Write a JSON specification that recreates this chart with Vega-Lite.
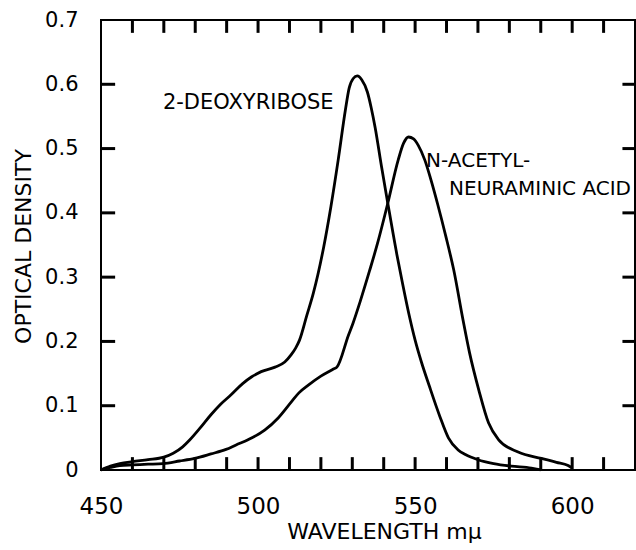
{
  "$schema": "https://vega.github.io/schema/vega-lite/v6.json",
  "width": 534,
  "height": 450,
  "autosize": {"type": "none"},
  "padding": {"left": 101, "top": 20, "right": 1, "bottom": 80},
  "background": "white",
  "config": {
    "view": {"stroke": "black", "strokeWidth": 2},
    "axis": {
      "domain": false,
      "grid": false,
      "labelColor": "black",
      "titleColor": "black",
      "labelFont": "DejaVu Sans",
      "titleFont": "DejaVu Sans",
      "titleFontWeight": "normal"
    }
  },
  "datasets": {
    "curves": [
      {"compound": "2-deoxyribose", "wavelength": 450, "od": 0},
      {"compound": "2-deoxyribose", "wavelength": 453, "od": 0.006},
      {"compound": "2-deoxyribose", "wavelength": 456, "od": 0.010},
      {"compound": "2-deoxyribose", "wavelength": 460, "od": 0.013},
      {"compound": "2-deoxyribose", "wavelength": 465, "od": 0.016},
      {"compound": "2-deoxyribose", "wavelength": 470, "od": 0.020},
      {"compound": "2-deoxyribose", "wavelength": 473, "od": 0.026},
      {"compound": "2-deoxyribose", "wavelength": 476, "od": 0.036},
      {"compound": "2-deoxyribose", "wavelength": 478.3, "od": 0.047},
      {"compound": "2-deoxyribose", "wavelength": 481.5, "od": 0.065},
      {"compound": "2-deoxyribose", "wavelength": 485, "od": 0.086},
      {"compound": "2-deoxyribose", "wavelength": 488, "od": 0.102},
      {"compound": "2-deoxyribose", "wavelength": 491.4, "od": 0.117},
      {"compound": "2-deoxyribose", "wavelength": 495, "od": 0.134},
      {"compound": "2-deoxyribose", "wavelength": 498, "od": 0.145},
      {"compound": "2-deoxyribose", "wavelength": 501, "od": 0.153},
      {"compound": "2-deoxyribose", "wavelength": 505.4, "od": 0.160},
      {"compound": "2-deoxyribose", "wavelength": 508.5, "od": 0.168},
      {"compound": "2-deoxyribose", "wavelength": 510.5, "od": 0.179},
      {"compound": "2-deoxyribose", "wavelength": 512, "od": 0.190},
      {"compound": "2-deoxyribose", "wavelength": 513.2, "od": 0.202},
      {"compound": "2-deoxyribose", "wavelength": 515.5, "od": 0.240},
      {"compound": "2-deoxyribose", "wavelength": 517.6, "od": 0.275},
      {"compound": "2-deoxyribose", "wavelength": 520.9, "od": 0.347},
      {"compound": "2-deoxyribose", "wavelength": 523.2, "od": 0.410},
      {"compound": "2-deoxyribose", "wavelength": 525.5, "od": 0.482},
      {"compound": "2-deoxyribose", "wavelength": 527.8, "od": 0.560},
      {"compound": "2-deoxyribose", "wavelength": 529, "od": 0.594},
      {"compound": "2-deoxyribose", "wavelength": 530.3, "od": 0.609},
      {"compound": "2-deoxyribose", "wavelength": 531.6, "od": 0.613},
      {"compound": "2-deoxyribose", "wavelength": 533, "od": 0.607},
      {"compound": "2-deoxyribose", "wavelength": 534.8, "od": 0.588},
      {"compound": "2-deoxyribose", "wavelength": 536, "od": 0.564},
      {"compound": "2-deoxyribose", "wavelength": 537.3, "od": 0.532},
      {"compound": "2-deoxyribose", "wavelength": 539.3, "od": 0.472},
      {"compound": "2-deoxyribose", "wavelength": 541.3, "od": 0.415},
      {"compound": "2-deoxyribose", "wavelength": 544.2, "od": 0.335},
      {"compound": "2-deoxyribose", "wavelength": 546, "od": 0.290},
      {"compound": "2-deoxyribose", "wavelength": 548, "od": 0.243},
      {"compound": "2-deoxyribose", "wavelength": 550, "od": 0.202},
      {"compound": "2-deoxyribose", "wavelength": 552, "od": 0.168},
      {"compound": "2-deoxyribose", "wavelength": 554.5, "od": 0.131},
      {"compound": "2-deoxyribose", "wavelength": 557.9, "od": 0.083},
      {"compound": "2-deoxyribose", "wavelength": 560.6, "od": 0.050},
      {"compound": "2-deoxyribose", "wavelength": 563.7, "od": 0.031},
      {"compound": "2-deoxyribose", "wavelength": 566, "od": 0.024},
      {"compound": "2-deoxyribose", "wavelength": 570, "od": 0.016},
      {"compound": "2-deoxyribose", "wavelength": 575, "od": 0.010},
      {"compound": "2-deoxyribose", "wavelength": 580.6, "od": 0.006},
      {"compound": "2-deoxyribose", "wavelength": 587, "od": 0.003},
      {"compound": "2-deoxyribose", "wavelength": 590, "od": 0},
      {"compound": "N-acetylneuraminic acid", "wavelength": 450, "od": 0},
      {"compound": "N-acetylneuraminic acid", "wavelength": 453, "od": 0.004},
      {"compound": "N-acetylneuraminic acid", "wavelength": 456, "od": 0.007},
      {"compound": "N-acetylneuraminic acid", "wavelength": 460, "od": 0.008},
      {"compound": "N-acetylneuraminic acid", "wavelength": 465, "od": 0.009},
      {"compound": "N-acetylneuraminic acid", "wavelength": 469.7, "od": 0.010},
      {"compound": "N-acetylneuraminic acid", "wavelength": 475, "od": 0.014},
      {"compound": "N-acetylneuraminic acid", "wavelength": 479.8, "od": 0.018},
      {"compound": "N-acetylneuraminic acid", "wavelength": 485, "od": 0.025},
      {"compound": "N-acetylneuraminic acid", "wavelength": 489.8, "od": 0.032},
      {"compound": "N-acetylneuraminic acid", "wavelength": 493, "od": 0.039},
      {"compound": "N-acetylneuraminic acid", "wavelength": 496.8, "od": 0.047},
      {"compound": "N-acetylneuraminic acid", "wavelength": 502.1, "od": 0.062},
      {"compound": "N-acetylneuraminic acid", "wavelength": 506.4, "od": 0.081},
      {"compound": "N-acetylneuraminic acid", "wavelength": 510.6, "od": 0.106},
      {"compound": "N-acetylneuraminic acid", "wavelength": 513, "od": 0.120},
      {"compound": "N-acetylneuraminic acid", "wavelength": 516, "od": 0.132},
      {"compound": "N-acetylneuraminic acid", "wavelength": 520, "od": 0.146},
      {"compound": "N-acetylneuraminic acid", "wavelength": 524, "od": 0.157},
      {"compound": "N-acetylneuraminic acid", "wavelength": 525.1, "od": 0.160},
      {"compound": "N-acetylneuraminic acid", "wavelength": 528.8, "od": 0.210},
      {"compound": "N-acetylneuraminic acid", "wavelength": 530.2, "od": 0.228},
      {"compound": "N-acetylneuraminic acid", "wavelength": 532.5, "od": 0.262},
      {"compound": "N-acetylneuraminic acid", "wavelength": 535.5, "od": 0.310},
      {"compound": "N-acetylneuraminic acid", "wavelength": 538, "od": 0.352},
      {"compound": "N-acetylneuraminic acid", "wavelength": 541.3, "od": 0.415},
      {"compound": "N-acetylneuraminic acid", "wavelength": 544.6, "od": 0.482},
      {"compound": "N-acetylneuraminic acid", "wavelength": 546.3, "od": 0.508},
      {"compound": "N-acetylneuraminic acid", "wavelength": 547.9, "od": 0.518},
      {"compound": "N-acetylneuraminic acid", "wavelength": 549.5, "od": 0.515},
      {"compound": "N-acetylneuraminic acid", "wavelength": 551, "od": 0.505},
      {"compound": "N-acetylneuraminic acid", "wavelength": 553.1, "od": 0.482},
      {"compound": "N-acetylneuraminic acid", "wavelength": 555, "od": 0.452},
      {"compound": "N-acetylneuraminic acid", "wavelength": 557.2, "od": 0.413},
      {"compound": "N-acetylneuraminic acid", "wavelength": 559.7, "od": 0.365},
      {"compound": "N-acetylneuraminic acid", "wavelength": 562.3, "od": 0.311},
      {"compound": "N-acetylneuraminic acid", "wavelength": 565.3, "od": 0.232},
      {"compound": "N-acetylneuraminic acid", "wavelength": 567.3, "od": 0.183},
      {"compound": "N-acetylneuraminic acid", "wavelength": 570.3, "od": 0.124},
      {"compound": "N-acetylneuraminic acid", "wavelength": 573.4, "od": 0.073},
      {"compound": "N-acetylneuraminic acid", "wavelength": 576.6, "od": 0.047},
      {"compound": "N-acetylneuraminic acid", "wavelength": 582.8, "od": 0.028},
      {"compound": "N-acetylneuraminic acid", "wavelength": 590.2, "od": 0.018},
      {"compound": "N-acetylneuraminic acid", "wavelength": 595, "od": 0.012},
      {"compound": "N-acetylneuraminic acid", "wavelength": 598.7, "od": 0.007},
      {"compound": "N-acetylneuraminic acid", "wavelength": 600, "od": 0.003}
    ],
    "labels": [
      {"text": "2-DEOXYRIBOSE", "wavelength": 469.7, "od": 0.571, "size": "large"},
      {"text": "N-ACETYL-", "wavelength": 553.5, "od": 0.481, "size": "small"},
      {"text": "NEURAMINIC  ACID", "wavelength": 560.8, "od": 0.437, "size": "small"}
    ],
    "xticks": [
      {"wavelength": 460, "kind": "minor"},
      {"wavelength": 470, "kind": "minor"},
      {"wavelength": 480, "kind": "minor"},
      {"wavelength": 490, "kind": "minor"},
      {"wavelength": 500, "kind": "major"},
      {"wavelength": 510, "kind": "minor"},
      {"wavelength": 520, "kind": "minor"},
      {"wavelength": 530, "kind": "minor"},
      {"wavelength": 540, "kind": "minor"},
      {"wavelength": 550, "kind": "major"},
      {"wavelength": 560, "kind": "minor"},
      {"wavelength": 570, "kind": "minor"},
      {"wavelength": 580, "kind": "minor"},
      {"wavelength": 590, "kind": "minor"},
      {"wavelength": 600, "kind": "major"},
      {"wavelength": 610, "kind": "minor"}
    ],
    "yticks": [
      {"od": 0.1}, {"od": 0.2}, {"od": 0.3}, {"od": 0.4}, {"od": 0.5}, {"od": 0.6}
    ]
  },
  "layer": [
    {
      "data": {"name": "curves"},
      "mark": {"type": "line", "color": "black", "strokeWidth": 2.8, "interpolate": "monotone"},
      "encoding": {
        "x": {
          "field": "wavelength", "type": "quantitative",
          "scale": {"domain": [450, 620], "nice": false, "zero": false},
          "axis": {
            "orient": "bottom",
            "values": [450, 500, 550, 600],
            "format": "d",
            "ticks": false,
            "labelFontSize": 23,
            "labelPadding": 25,
            "labelFlush": false,
            "title": "WAVELENGTH mμ",
            "titleFontSize": 22,
            "titleX": 283,
            "titleY": 68,
            "titleAlign": "center",
            "titleBaseline": "alphabetic"
          }
        },
        "y": {
          "field": "od", "type": "quantitative",
          "scale": {"domain": [0, 0.7], "nice": false},
          "axis": {
            "orient": "left",
            "values": [0, 0.1, 0.2, 0.3, 0.4, 0.5, 0.6, 0.7],
            "labelExpr": "datum.value === 0 ? '0' : format(datum.value, '.1f')",
            "ticks": false,
            "labelFontSize": 21,
            "labelPadding": 23,
            "labelFlush": false,
            "title": "OPTICAL DENSITY",
            "titleFontSize": 22,
            "titleX": -78,
            "titleY": 226,
            "titleAngle": -90,
            "titleAlign": "center",
            "titleBaseline": "middle"
          }
        },
        "detail": {"field": "compound", "type": "nominal"}
      }
    },
    {
      "data": {"name": "labels"},
      "mark": {"type": "text", "align": "left", "baseline": "middle", "font": "DejaVu Sans", "color": "black"},
      "encoding": {
        "x": {"field": "wavelength", "type": "quantitative", "axis": null},
        "y": {"field": "od", "type": "quantitative", "axis": null},
        "text": {"field": "text"},
        "size": {"field": "size", "type": "nominal", "scale": {"domain": ["large", "small"], "range": [21, 20]}, "legend": null}
      }
    },
    {
      "data": {"name": "xticks"},
      "mark": {"type": "rule", "color": "black", "strokeWidth": 3},
      "encoding": {
        "x": {"field": "wavelength", "type": "quantitative", "axis": null},
        "y": {"datum": 0, "type": "quantitative", "axis": null},
        "y2": {"datum": 0.02}
      }
    },
    {
      "data": {"name": "xticks"},
      "mark": {"type": "rule", "color": "black", "strokeWidth": 3},
      "encoding": {
        "x": {"field": "wavelength", "type": "quantitative", "axis": null},
        "y": {"datum": 0.7, "type": "quantitative", "axis": null},
        "y2": {"datum": 0.68}
      }
    },
    {
      "data": {"name": "yticks"},
      "mark": {"type": "rule", "color": "black", "strokeWidth": 3},
      "encoding": {
        "y": {"field": "od", "type": "quantitative", "axis": null},
        "x": {"datum": 450, "type": "quantitative", "axis": null},
        "x2": {"datum": 454.5}
      }
    },
    {
      "data": {"name": "yticks"},
      "mark": {"type": "rule", "color": "black", "strokeWidth": 3},
      "encoding": {
        "y": {"field": "od", "type": "quantitative", "axis": null},
        "x": {"datum": 620, "type": "quantitative", "axis": null},
        "x2": {"datum": 616}
      }
    }
  ],
  "resolve": {"axis": {"x": "independent", "y": "independent"}}
}
